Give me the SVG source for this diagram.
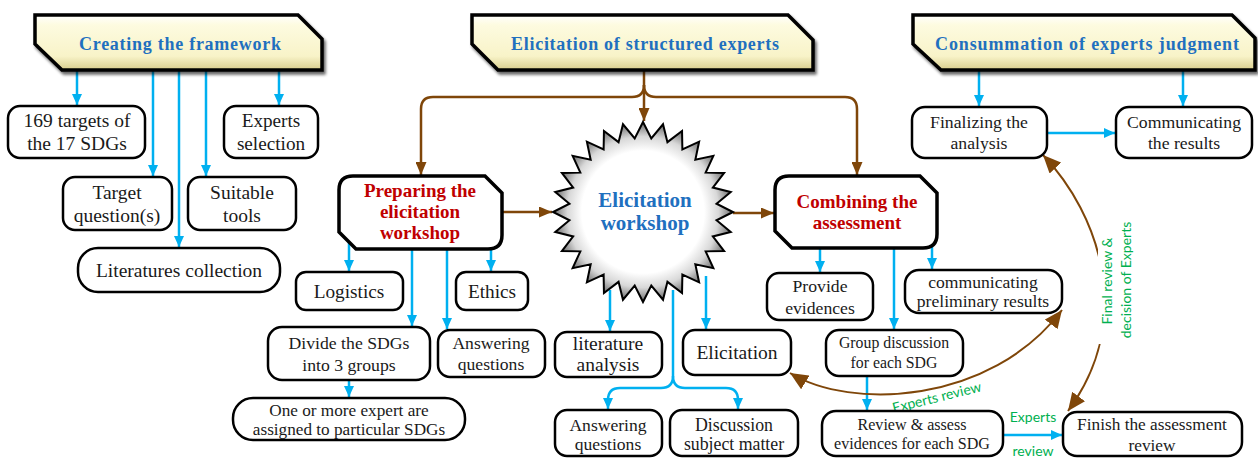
<svg xmlns="http://www.w3.org/2000/svg" width="1258" height="458" viewBox="0 0 1258 458">
<defs>
<style>
.box{fill:#fff;stroke:#000;stroke-width:2.5}
.bold{fill:#fff;stroke:#000;stroke-width:3.5}
text{font-family:'Liberation Serif',serif}
.t{fill:#1a1a1a;text-anchor:middle}
.h{font-size:18px;font-weight:bold;fill:#1f70bf;text-anchor:middle}
.r{font-size:19px;font-weight:bold;fill:#c00000;text-anchor:middle}
.sb{font-size:21px;font-weight:bold;fill:#1f70bf;text-anchor:middle}
.g{font-family:Lato,'Liberation Sans',sans-serif;font-size:14px;fill:#00b050;text-anchor:middle}
.hdr{fill:url(#hg);stroke:#000;stroke-width:3.5;stroke-linejoin:miter}
.bl{fill:none;stroke:#00b0f0;stroke-width:2.5;marker-end:url(#ba)}
.bln{fill:none;stroke:#00b0f0;stroke-width:2.5}
.br{fill:none;stroke:#7f4609;stroke-width:2.5;marker-end:url(#bra)}
.arc{fill:none;stroke:#7f4609;stroke-width:2;marker-start:url(#bigs);marker-end:url(#big)}
</style>
<linearGradient id="hg" x1="0" y1="0" x2="0" y2="1">
<stop offset="0" stop-color="#ffffff"/>
<stop offset="0.18" stop-color="#fdfbe0"/>
<stop offset="0.75" stop-color="#f8f3c8"/>
<stop offset="1" stop-color="#d8cd8c"/>
</linearGradient>
<radialGradient id="sg" cx="643" cy="212" r="90" gradientUnits="userSpaceOnUse">
<stop offset="0" stop-color="#ffffff"/>
<stop offset="0.68" stop-color="#ffffff"/>
<stop offset="0.84" stop-color="#d8d8d8"/>
<stop offset="1" stop-color="#6a6a6a"/>
</radialGradient>
<filter id="sh" x="-5%" y="-20%" width="112%" height="160%">
<feGaussianBlur in="SourceAlpha" stdDeviation="1.5"/>
<feOffset dx="2" dy="3"/>
<feComponentTransfer><feFuncA type="linear" slope="0.6"/></feComponentTransfer>
<feMerge><feMergeNode/><feMergeNode in="SourceGraphic"/></feMerge>
</filter>
<marker id="ba" markerUnits="userSpaceOnUse" markerWidth="11" markerHeight="10" viewBox="0 0 11 10" refX="11" refY="5" orient="auto"><path d="M0,0 L11,5 L0,10 z" fill="#00b0f0"/></marker>
<marker id="bra" markerUnits="userSpaceOnUse" markerWidth="13" markerHeight="11" viewBox="0 0 13 11" refX="13" refY="5.5" orient="auto"><path d="M0,0 L13,5.5 L0,11 z" fill="#7f4609"/></marker>
<marker id="big" markerUnits="userSpaceOnUse" markerWidth="18" markerHeight="16" viewBox="0 0 18 16" refX="18" refY="8" orient="auto"><path d="M0,0 L18,8 L0,16 z" fill="#7f4609"/></marker>
<marker id="bigs" markerUnits="userSpaceOnUse" markerWidth="18" markerHeight="16" viewBox="0 0 18 16" refX="18" refY="8" orient="auto-start-reverse"><path d="M0,0 L18,8 L0,16 z" fill="#7f4609"/></marker>
</defs>

<g id="connectors">
<path class="bl" d="M77,70 V105"/>
<path class="bl" d="M153,70 V176"/>
<path class="bl" d="M179,70 V247"/>
<path class="bl" d="M206,70 V176"/>
<path class="bl" d="M279,70 V105"/>
<path class="br" d="M644,70 V121"/>
<path class="br" d="M644,85 Q644,97 632,97 H433 Q421,97 421,109 V175"/>
<path class="br" d="M644,85 Q644,97 656,97 H845 Q857,97 857,109 V175"/>
<path class="br" d="M502,212 H552"/>
<path class="br" d="M733,213 H774"/>
<path class="bl" d="M349,242 V271"/>
<path class="bl" d="M412,249 V326"/>
<path class="bl" d="M447,249 V329"/>
<path class="bl" d="M491,249 V271"/>
<path class="bl" d="M349,380 V397"/>
<path class="bl" d="M610,290 V331"/>
<path class="bl" d="M706,276 V329"/>
<path class="bln" d="M673,290 V376"/>
<path class="bl" d="M673,376 Q673,388 661,388 H620 Q608,388 608,400 V409"/>
<path class="bl" d="M673,376 Q673,388 685,388 H726 Q738,388 738,400 V409"/>
<path class="bl" d="M820,248 V272"/>
<path class="bl" d="M894,248 V329"/>
<path class="bl" d="M932,245 V269"/>
<path class="bl" d="M867,376 V410"/>
<path class="bl" d="M1003,435 H1062"/>
<path class="bl" d="M979,70 V106"/>
<path class="bl" d="M1183,70 V106"/>
<path class="bl" d="M1047,133 H1115"/>
<path class="arc" d="M790,373 C850,410 990,405 1062,310"/>
<path class="arc" d="M1043,155 C1100,215 1135,320 1068,411"/>
<rect x="1098" y="218" width="38" height="126" fill="#fff"/>
<text class="g" transform="translate(938,402) rotate(-14)" stroke="#fff" stroke-width="4" paint-order="stroke">Experts review</text>
<text class="g" transform="translate(1112,281) rotate(-90)" font-size="13.5">Final review &amp;</text>
<text class="g" transform="translate(1131,280) rotate(-90)" font-size="13.5">decision of Experts</text>
<text class="g" x="1033" y="422">Experts</text>
<text class="g" x="1033" y="456">review</text>
</g>

<g id="h1"><path class="hdr" filter="url(#sh)" d="M35,15 H298 L322,39 V70 H62 L35,44 Z"/><text class="h" x="180" y="50" textLength="202">Creating the framework</text></g>
<g id="h2"><path class="hdr" filter="url(#sh)" d="M472,15 H788 L813,40 V70 H498 L472,44 Z"/><text class="h" x="645" y="50" textLength="268">Elicitation of structured experts</text></g>
<g id="h3"><path class="hdr" filter="url(#sh)" d="M913,15 H1232 L1255,38 V70 H941 L913,44 Z"/><text class="h" x="1087" y="50" textLength="304">Consummation of experts judgment</text></g>

<g id="n169" font-size="19.5"><rect class="box" x="8" y="106" width="137" height="52" rx="12"/><text class="t" x="77" y="127">169 targets of</text><text class="t" x="77" y="150">the 17 SDGs</text></g>
<g id="experts-selection" font-size="19.2"><rect class="box" x="224" y="106" width="94" height="52" rx="12"/><text class="t" x="271" y="127">Experts</text><text class="t" x="271" y="150">selection</text></g>
<g id="target" font-size="19.5"><rect class="box" x="63" y="177" width="109" height="53" rx="12"/><text class="t" x="117" y="199">Target</text><text class="t" x="117" y="222">question(s)</text></g>
<g id="suitable" font-size="19.5"><rect class="box" x="188" y="177" width="108" height="53" rx="12"/><text class="t" x="242" y="199">Suitable</text><text class="t" x="242" y="222">tools</text></g>
<g id="literatures" font-size="19.5"><rect class="box" x="78" y="248" width="202" height="44" rx="20"/><text class="t" x="179" y="277">Literatures collection</text></g>

<g id="preparing"><path class="bold" d="M353,176 H485 L502,193 V235 Q502,249 488,249 H356 L339,232 V190 Q339,176 353,176 Z"/><text class="r" x="420" y="197">Preparing the</text><text class="r" x="420" y="218">elicitation</text><text class="r" x="420" y="239">workshop</text></g>

<g id="workshop"><polygon fill="url(#sg)" stroke="#000" stroke-width="2" points="733,212 716.53,220.29 730.74,232.03 712.85,236.44 724.09,251.05 705.66,251.37 713.36,268.11 695.33,264.33 699.11,282.36 682.37,274.66 682.05,293.09 667.44,281.85 663.03,299.74 651.29,285.53 643,302 634.71,285.53 622.97,299.74 618.56,281.85 603.95,293.09 603.63,274.66 586.89,282.36 590.67,264.33 572.64,268.11 580.34,251.37 561.91,251.05 573.15,236.44 555.26,232.03 569.47,220.29 553,212 569.47,203.71 555.26,191.97 573.15,187.56 561.91,172.95 580.34,172.63 572.64,155.89 590.67,159.67 586.89,141.64 603.63,149.34 603.95,130.91 618.56,142.15 622.97,124.26 634.71,138.47 643,122 651.29,138.47 663.03,124.26 667.44,142.15 682.05,130.91 682.37,149.34 699.11,141.64 695.33,159.67 713.36,155.89 705.66,172.63 724.09,172.95 712.85,187.56 730.74,191.97 716.53,203.71"/><text class="sb" x="645" y="207">Elicitation</text><text class="sb" x="645" y="230">workshop</text></g>

<g id="combining"><path class="bold" d="M789,176 H920 L937,193 V234 Q937,248 923,248 H792 L775,231 V190 Q775,176 789,176 Z"/><text class="r" x="857" y="208" font-size="19.5">Combining the</text><text class="r" x="857" y="229" font-size="19.5">assessment</text></g>

<g id="logistics" font-size="19.3"><rect class="box" x="296" y="272" width="107" height="38" rx="10"/><text class="t" x="349" y="298">Logistics</text></g>
<g id="ethics" font-size="19.3"><rect class="box" x="456" y="272" width="72" height="38" rx="10"/><text class="t" x="492" y="298">Ethics</text></g>
<g id="divide" font-size="17.7"><rect class="box" x="268" y="327" width="162" height="53" rx="14"/><text class="t" x="349" y="349">Divide the SDGs</text><text class="t" x="349" y="371">into 3 groups</text></g>
<g id="answering1" font-size="17.6"><rect class="box" x="438" y="330" width="107" height="47" rx="12"/><text class="t" x="491" y="349">Answering</text><text class="t" x="491" y="370">questions</text></g>
<g id="one-or-more" font-size="17.2"><rect class="box" x="233" y="398" width="232" height="42" rx="20"/><text class="t" x="349" y="416">One or more expert are</text><text class="t" x="349" y="435">assigned to particular SDGs</text></g>

<g id="literature-analysis" font-size="19.5"><rect class="box" x="555" y="332" width="107" height="45" rx="12"/><text class="t" x="608" y="350">literature</text><text class="t" x="608" y="371">analysis</text></g>
<g id="elicitation" font-size="19.5"><rect class="box" x="683" y="330" width="108" height="45" rx="12"/><text class="t" x="737" y="359">Elicitation</text></g>
<g id="answering2" font-size="17.6"><rect class="box" x="555" y="410" width="107" height="46" rx="12"/><text class="t" x="608" y="431">Answering</text><text class="t" x="608" y="450">questions</text></g>
<g id="discussion" font-size="17.8"><rect class="box" x="670" y="410" width="128" height="46" rx="12"/><text class="t" x="734" y="431">Discussion</text><text class="t" x="734" y="450">subject matter</text></g>

<g id="provide" font-size="17.7"><rect class="box" x="767" y="273" width="106" height="47" rx="12"/><text class="t" x="820" y="292">Provide</text><text class="t" x="820" y="314">evidences</text></g>
<g id="communicating-prelim" font-size="17.6"><rect class="box" x="905" y="270" width="157" height="43" rx="14"/><text class="t" x="983" y="288">communicating</text><text class="t" x="983" y="307">preliminary results</text></g>
<g id="group" font-size="15.8"><rect class="box" x="826" y="330" width="137" height="46" rx="13"/><text class="t" x="894" y="348">Group discussion</text><text class="t" x="894" y="368">for each SDG</text></g>
<g id="review" font-size="16.1"><rect class="box" x="822" y="411" width="181" height="45" rx="14"/><text class="t" x="912" y="430">Review &amp; assess</text><text class="t" x="912" y="449">evidences for each SDG</text></g>
<g id="finish" font-size="17.3"><rect class="box" x="1063" y="412" width="179" height="44" rx="14"/><text class="t" x="1152" y="430">Finish the assessment</text><text class="t" x="1152" y="451">review</text></g>
<g id="finalizing" font-size="17.7"><rect class="box" x="912" y="107" width="135" height="51" rx="13"/><text class="t" x="979" y="128">Finalizing the</text><text class="t" x="979" y="149">analysis</text></g>
<g id="communicating-results" font-size="17.7"><rect class="box" x="1116" y="107" width="136" height="51" rx="13"/><text class="t" x="1184" y="128">Communicating</text><text class="t" x="1184" y="149">the results</text></g>
</svg>
